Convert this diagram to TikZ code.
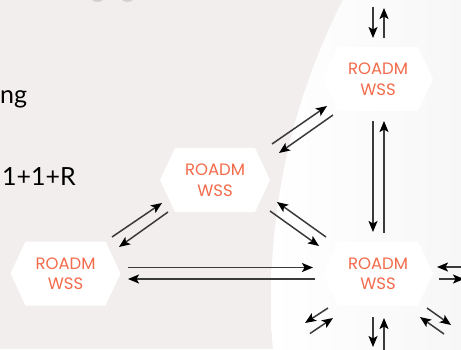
\documentclass[tikz,border=0pt]{standalone}
\usepackage{fontspec}
\setmainfont{Lato}
\newfontfamily\hexfont{Poppins}
\usetikzlibrary{arrows.meta,calc}
\definecolor{bgl}{HTML}{F1EEED}
\definecolor{rd}{HTML}{F36B4B}
\definecolor{ln}{HTML}{3A3A3A}
\definecolor{rgt}{HTML}{F7F7F7}
\tikzset{
  hexfill/.pic={\fill[white] (-55,0) -- (-40,-32) -- (40,-32) -- (55,0) -- (40,32) -- (-40,32) -- cycle;},
  hexlabel/.style={inner sep=0pt, align=center, text=rd, font=\hexfont\fontsize{16.5}{20.5}\selectfont},
  arr/.style={draw=ln, line width=1.5pt, -{Stealth[length=11pt,width=9pt,inset=2.5pt,color=black]}},
  bigtext/.style={inner sep=0pt, anchor=base west, font=\fontsize{25}{30}\selectfont}
}
\begin{document}
\begin{tikzpicture}[x=1pt,y=-1pt]
\useasboundingbox (0,0) rectangle (461,349);
\begin{scope}
\clip (0,0) rectangle (461,349);
\fill[bgl] (0,0) rectangle (461,349);
\begin{scope}
\clip (932,300) circle (661);
\shade[left color=white, right color=rgt] (270,0) rectangle (461,349);
\end{scope}
\fill[black!18] (92,0) .. controls (94,2.5) and (101,2.5) .. (103,0) -- cycle;
\fill[black!18] (122,0) .. controls (124,2.5) and (131,2.5) .. (133,0) -- cycle;
\node[bigtext] (t1) at (0,103) {ng};
\node[bigtext] (t2) at (2,185) {1+1+R};
\pic at (378,79) {hexfill};
\pic at (215,180) {hexfill};
\pic at (65.5,273.5) {hexfill};
\pic at (378,273.5) {hexfill};
\node[hexlabel] (tr) at (378,79) {ROADM\\WSS};
\node[hexlabel] (md) at (215,180) {ROADM\\WSS};
\node[hexlabel] (bl) at (65.5,273.5) {ROADM\\WSS};
\node[hexlabel] (br) at (378,273.5) {ROADM\\WSS};
% top of tr
\draw[arr] ($(tr)+(-5,-72)$) -- ($(tr)+(-5,-41)$);
\draw[arr] ($(tr)+(6,-41)$) -- ($(tr)+(6,-71)$);
% tr - br vertical
\draw[arr] ($(tr)+(-5,42)$) -- ($(br)+(-5,-41.5)$);
\draw[arr] ($(br)+(6,-40.5)$) -- ($(tr)+(6,42)$);
% bottom of br
\draw[arr] ($(br)+(-5,43.5)$) -- ($(br)+(-5,73.5)$);
\draw[arr] ($(br)+(6,78)$) -- ($(br)+(6,44.5)$);
% bl - br horizontal
\draw[arr] ($(bl)+(62.5,-6)$) -- ($(br)+(-65,-6)$);
\draw[arr] ($(br)+(-63,5.5)$) -- ($(bl)+(62.5,5.5)$);
% bl - md
\draw[arr] ($(bl)+(46.5,-36.5)$) -- ($(md)+(-53,23)$);
\draw[arr] ($(md)+(-47,32)$) -- ($(bl)+(53.5,-26.5)$);
% md - tr
\draw[arr] ($(md)+(57,-36)$) -- ($(tr)+(-51,27)$);
\draw[arr] ($(tr)+(-45,36)$) -- ($(md)+(64,-27)$);
% md - br
\draw[arr] ($(br)+(-52,-36.5)$) -- ($(md)+(62,22)$);
\draw[arr] ($(md)+(55,31)$) -- ($(br)+(-59,-27.5)$);
% right of br
\draw[arr] ($(br)+(95,-6.5)$) -- ($(br)+(59,-6.5)$);
\draw[arr] ($(br)+(61,5.5)$) -- ($(br)+(86,5.5)$);
% lower left of br
\draw[arr] ($(br)+(-50,34.5)$) -- ($(br)+(-73,49.5)$);
\draw[arr] ($(br)+(-68,60)$) -- ($(br)+(-45,44.5)$);
% lower right of br
\draw[arr] ($(br)+(49,34.5)$) -- ($(br)+(73,51.5)$);
\draw[arr] ($(br)+(66,60.5)$) -- ($(br)+(42,43.5)$);
\end{scope}
\end{tikzpicture}
\end{document}
